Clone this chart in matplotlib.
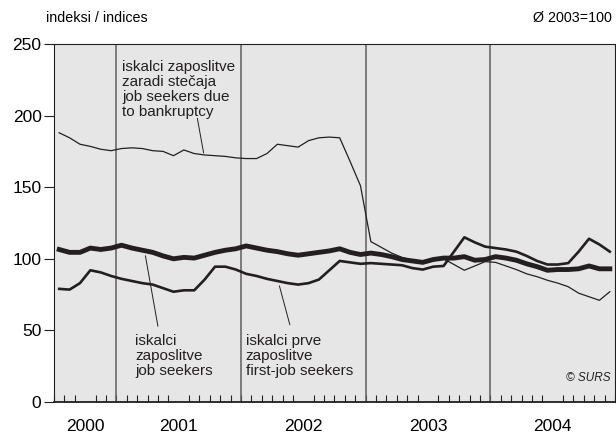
import matplotlib
matplotlib.use("Agg")
import matplotlib.pyplot as plt
import numpy as np

plt.rcParams['font.family'] = ['Liberation Sans', 'DejaVu Sans']

# monthly indices, July 2000 - December 2004 (average 2003 = 100)
years = ['2000', '2001', '2002', '2003', '2004']
months_in_year = [6, 12, 12, 12, 12]

bankruptcy = [188, 184.5, 180, 178.5, 176.5, 175.5,
              177, 177.5, 177, 175.5, 175, 172, 176, 173.5, 172.5, 172, 171.5, 170.5,
              170, 170, 173.5, 180, 179, 178, 182.5, 184.5, 185, 184.5, 168, 151,
              112, 108, 104, 101, 99, 97.5, 99, 100, 96, 92, 95, 98,
              97.5, 95, 92.5, 89.5, 87.5, 85, 83, 80.5, 76, 73.5, 71, 77]

job_seekers = [106.5, 104.5, 104.5, 107.5, 106.5, 107.5,
               109.5, 107.5, 106, 104.5, 102, 100, 101, 100.5, 102.5, 104.5, 106, 107,
               109, 107.5, 106, 105, 103.5, 102.5, 103.5, 104.5, 105.5, 107, 104.5, 103,
               104, 103, 101.5, 99.5, 98.5, 97.5, 99.5, 100.5, 100.5, 101.5, 99, 99.5,
               101.5, 100.5, 99, 96.5, 94.5, 92, 92.5, 92.5, 93, 95, 93, 93]

first_job = [79, 78.5, 83, 92, 90.5, 88,
             86, 84.5, 83, 82, 79.5, 77, 78, 78, 85.5, 94.5, 94.5, 92.5,
             89.5, 88, 86, 84.5, 83, 82, 83, 85.5, 92, 98.5, 97.5, 96.5,
             97, 96.5, 96, 95.5, 93.5, 92.5, 94.5, 95, 105, 115, 111.5, 108.5,
             107.5, 106.5, 105, 102, 98.5, 96, 96, 97, 105, 114, 110, 105]

ink = '#231f20'
n = len(bankruptcy)
x = np.arange(n) + 0.5

fig = plt.figure(figsize=(6.16, 4.33), dpi=100)
ax = fig.add_axes([54 / 616, 31 / 433, 561 / 616, 358 / 433])
ax.set_facecolor('#e6e6e6')

ax.plot(x, bankruptcy, color=ink, lw=0.9, zorder=3)
ax.plot(x, first_job, color=ink, lw=1.9, zorder=3)
ax.plot(x, job_seekers, color=ink, lw=3.5, zorder=4)

# year separators and labels
bounds = np.cumsum([0] + months_in_year)
for b in bounds[1:-1]:
    ax.axvline(b, color='#5f5f5f', lw=1.1, zorder=2)
centers = (bounds[:-1] + bounds[1:]) / 2

ax.set_xlim(0, n)
ax.set_ylim(0, 250)
ax.set_yticks(range(0, 251, 50))
ax.set_xticks(centers)
ax.set_xticklabels(years)
ax.set_xticks(np.arange(n + 1), minor=True)
ax.tick_params(axis='x', which='major', length=0, pad=12, labelsize=12.5)
ax.tick_params(axis='x', which='minor', direction='in', length=5, width=0.8, color=ink)
ax.tick_params(axis='y', direction='out', length=7, width=0.8, color=ink, labelsize=12.5, pad=2)

for side in ['left', 'top', 'right']:
    ax.spines[side].set_color(ink)
    ax.spines[side].set_linewidth(0.8)
ax.spines['bottom'].set_color(ink)
ax.spines['bottom'].set_linewidth(1.3)

fig.text(46 / 616, 1 - 18 / 433, 'indeksi / indices', fontsize=10.3, va='center', ha='left')
fig.text(612 / 616, 1 - 18 / 433, 'Ø 2003=100', fontsize=10.3, va='center', ha='right')

txt = dict(fontsize=11, va='top', ha='left', linespacing=1.1, color=ink)
ax.text(6.55, 239, 'iskalci zaposlitve\nzaradi stečaja\njob seekers due\nto bankruptcy', **txt)
ax.plot([13.8, 14.4], [198, 174], color=ink, lw=0.7)
ax.text(7.8, 47.5, 'iskalci\nzaposlitve\njob seekers', **txt)
ax.plot([8.8, 10.0], [102, 53], color=ink, lw=0.7)
ax.text(18.45, 47.5, 'iskalci prve\nzaposlitve\nfirst-job seekers', **txt)
ax.plot([21.7, 22.7], [81, 54], color=ink, lw=0.7)

ax.text(0.993, 0.05, '© SURS', transform=ax.transAxes, fontsize=8.5, style='italic',
        ha='right', va='bottom', color=ink)

fig.savefig('out.png', dpi=100)
